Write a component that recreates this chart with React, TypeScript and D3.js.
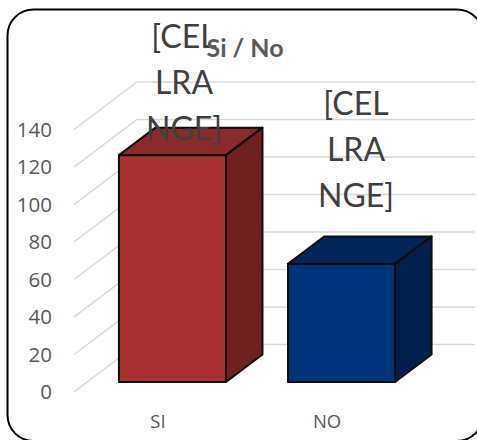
import * as d3 from "d3";

const categories = ["SI", "NO"];
const values = [121, 63];
const ticks = [0, 20, 40, 60, 80, 100, 120, 140];
const labelLines = ["[CEL", "LRA", "NGE]"];
const frontColors = ["#A83232", "#003478"];
const topColors = ["#8A2A2A", "#00265A"];
const sideColors = ["#6F2020", "#001F4C"];

const WIDTH = 477;
const HEIGHT = 440;
const font = "Lato, 'Noto Sans', sans-serif";
const axisFont = "'Open Sans', 'Noto Sans', sans-serif";
const textColor = "#595959";

// front edge of the axis and the way the 3d wall runs back from it
const axisLeft = 74;
const wallDx = 63;
const wallDy = -47.5;
const wallRight = 475;
const barDx = 36.5;
const barDy = -27.5;
const barBase = 382;

const y = d3.scaleLinear().domain([0, 140]).range([392, 129.5]);
const barHeight = d3.scaleLinear().domain([0, 140]).range([0, 262.5]);
const x = d3
    .scaleBand()
    .domain(categories)
    .range([88, 426])
    .paddingInner(0.367)
    .paddingOuter(0.183);

const line = d3.line();

const App = () => {
    const bw = x.bandwidth();
    // data labels sit by hand like in the original, not on the bars
    const labelPos = [
        { cx: 184, first: 48 },
        { cx: 356, first: 115 },
    ];
    return (
        <svg
            width={WIDTH}
            height={HEIGHT}
            style={{ position: "absolute", left: 0, top: 0 }}
            fontFamily={font}
        >
            <rect width={WIDTH} height={HEIGHT} fill="#fff" />
            <rect
                x={7.5}
                y={9.5}
                width={475.5}
                height={431.5}
                rx={26}
                ry={26}
                fill="#fff"
                stroke="#000"
                strokeWidth={2}
            />
            {ticks.map((t) => (
                <path
                    key={t}
                    d={
                        line([
                            [axisLeft, y(t)],
                            [axisLeft + wallDx, y(t) + wallDy],
                            [wallRight, y(t) + wallDy],
                        ]) ?? ""
                    }
                    fill="none"
                    stroke="#D9D9D9"
                    strokeWidth={1.5}
                />
            ))}
            {ticks.map((t) => (
                <text
                    key={t}
                    x={52}
                    y={y(t) + 7}
                    textAnchor="end"
                    fontFamily={axisFont}
                    fontSize={20.5}
                    fill={textColor}
                >
                    {t}
                </text>
            ))}
            {categories.map((c, i) => {
                const x0 = x(c) ?? 0;
                const x1 = x0 + bw;
                const top = barBase - barHeight(values[i]);
                const front = d3.path();
                front.rect(x0, top, bw, barBase - top);
                const roof =
                    line([
                        [x0, top],
                        [x0 + barDx, top + barDy],
                        [x1 + barDx, top + barDy],
                        [x1, top],
                    ]) + "Z";
                const side =
                    line([
                        [x1, top],
                        [x1 + barDx, top + barDy],
                        [x1 + barDx, barBase + barDy],
                        [x1, barBase],
                    ]) + "Z";
                return (
                    <g key={c} stroke="#0D0D0D" strokeWidth={2} strokeLinejoin="round">
                        <path d={roof} fill={topColors[i]} />
                        <path d={side} fill={sideColors[i]} />
                        <path d={front.toString()} fill={frontColors[i]} />
                    </g>
                );
            })}
            {categories.map((c) => (
                <text
                    key={c}
                    x={(x(c) ?? 0) + bw / 2 - 14.5}
                    y={428}
                    textAnchor="middle"
                    fontFamily={axisFont}
                    fontSize={18.5}
                    fill={textColor}
                >
                    {c}
                </text>
            ))}
            {labelPos.map((p, i) =>
                labelLines.map((l, j) => (
                    <text
                        key={`${i}-${j}`}
                        x={p.cx}
                        y={p.first + j * 46}
                        textAnchor="middle"
                        fontSize={32}
                        fill="#404040"
                    >
                        {l}
                    </text>
                ))
            )}
            <text
                x={245}
                y={57}
                textAnchor="middle"
                fontSize={25}
                fontWeight={700}
                fill={textColor}
            >
                Si / No
            </text>
        </svg>
    );
};

export default App;
